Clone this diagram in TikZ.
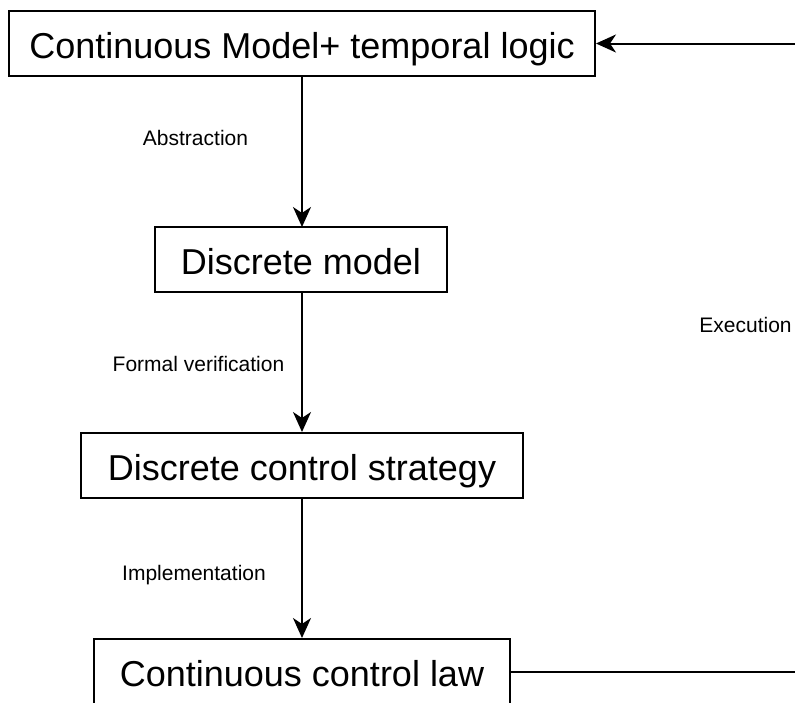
\documentclass[tikz,border=0pt]{standalone}
\usepackage{fontspec}
\setmainfont{Liberation Sans}
\usetikzlibrary{arrows.meta}

\begin{document}
\begin{tikzpicture}[x=1pt,y=-1pt,
  every path/.style={line width=2pt},
  stagebox/.style={draw=black, line width=2pt, rectangle, inner sep=0pt,
    minimum height=65pt, font=\fontsize{36}{40}\selectfont,
    text height=29pt, text depth=0pt},
  steplabel/.style={anchor=base, inner sep=0pt, font=\fontsize{21}{24}\selectfont},
  flow/.style={-{Stealth[length=20pt,width=18pt,inset=6pt]}}
]
  \useasboundingbox (0,0) rectangle (795,702);

  % the four stages of the design flow
  \node[stagebox, minimum width=586pt] (cont) at (302,43.5) {Continuous Model+ temporal logic};
  \node[stagebox, minimum width=292pt] (disc) at (301,259.5) {Discrete model};
  \node[stagebox, minimum width=442pt] (strat) at (302,465.5) {Discrete control strategy};
  \node[stagebox, minimum width=416pt] (law) at (302,671.5) {Continuous control law};

  % downward steps
  \draw[flow] (cont.south -| 302,0) -- (302,227);
  \draw[flow] (disc.south -| 302,0) -- (strat.north -| 302,0);
  \draw[flow] (strat.south) -- (law.north);

  \node[steplabel] (labA) at (195.5,145) {Abstraction};
  \node[steplabel] (labF) at (198.5,371) {Formal verification};
  \node[steplabel] (labI) at (194,580) {Implementation};

  % feedback loop back to the model
  \coordinate (exB) at (800,671.5);
  \coordinate (exT) at (800,43.5);
  \draw (law.east) -- (exB);
  \draw[flow] (exT) -- (cont.east);
  \node[steplabel] (labE) at (745.5,332) {Execution};
\end{tikzpicture}
\end{document}
